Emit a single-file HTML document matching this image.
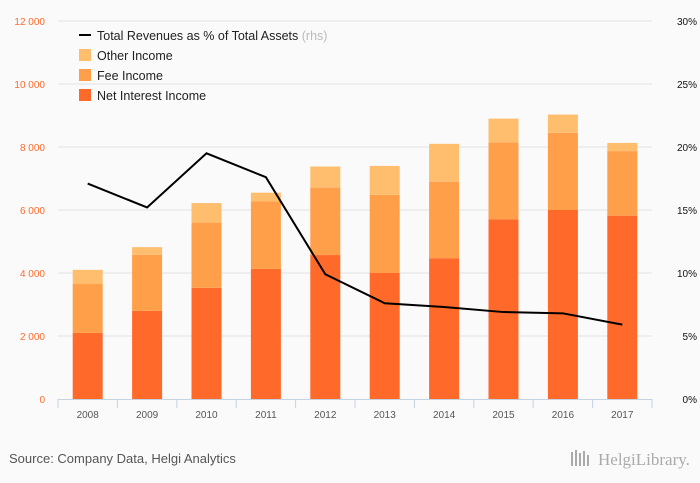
<!DOCTYPE html>
<html><head><meta charset="utf-8"><style>
body{margin:0;background:#fafafa;font-family:"Liberation Sans",sans-serif;}
svg{display:block}
</style></head><body>
<svg id="c" width="700" height="483" xmlns="http://www.w3.org/2000/svg">
<rect width="700" height="483" fill="#fafafa"/>
<g id="grid"></g><g id="bars"></g><g id="line"></g><g id="axes"></g>
<g font-size="12.5" fill="#222">
<line x1="79" y1="35" x2="91" y2="35" stroke="#000" stroke-width="2"/>
<text x="97" y="40">Total Revenues as % of Total Assets <tspan fill="#bbb">(rhs)</tspan></text>
<rect x="79" y="49" width="12" height="12" fill="#ffbd6e"/>
<text x="97" y="60">Other Income</text>
<rect x="79" y="69" width="12" height="12" fill="#ff9f4a"/>
<text x="97" y="80">Fee Income</text>
<rect x="79" y="89" width="12" height="12" fill="#ff6a2b"/>
<text x="97" y="100">Net Interest Income</text>
</g>
<text x="9" y="463" font-size="13" fill="#555">Source: Company Data, Helgi Analytics</text>
<text x="598" y="465" font-size="17" fill="#aaa" font-family="Liberation Serif,serif">HelgiLibrary.</text>
<g fill="#aaa"><rect x="571" y="452" width="2" height="14"/><rect x="575" y="450" width="2" height="16"/><rect x="579" y="453" width="2" height="13"/><rect x="583" y="451" width="2" height="15"/><rect x="587" y="455" width="2" height="11"/></g>
</svg>
<script>
const years=["2008","2009","2010","2011","2012","2013","2014","2015","2016","2017"];
const nii=[2100,2800,3530,4130,4570,4000,4470,5700,6000,5820];
const fee=[1550,1780,2070,2140,2140,2480,2430,2450,2450,2050];
const other=[450,240,620,280,670,920,1200,750,580,260];
const ratio=[17.1,15.2,19.5,17.6,9.9,7.6,7.3,6.9,6.8,5.9];
const leftTicks=[0,2000,4000,6000,8000,10000,12000];
const rightTicks=[0,5,10,15,20,25,30];
const X0=58,X1=652,Y0=399,Y1=21;
const bw=(X1-X0)/years.length;
const yL=v=>Y0-(v/12000)*(Y0-Y1);
const yR=v=>Y0-(v/30)*(Y0-Y1);
const xc=i=>X0+bw*(i+0.5);
const NS="http://www.w3.org/2000/svg";
function mk(p,t,a){const e=document.createElementNS(NS,t);for(const k in a)e.setAttribute(k,a[k]);p.appendChild(e);return e;}
const grid=document.getElementById('grid'),bars=document.getElementById('bars'),line=document.getElementById('line'),axes=document.getElementById('axes');
leftTicks.forEach((v,i)=>{
 if(v>0){const g=mk(grid,'line',{x1:X0,x2:X1,y1:yL(v),y2:yL(v),stroke:'#e2e2e2'});
 
 }
 const t=mk(axes,'text',{x:45,y:yL(v)+4,'text-anchor':'end','font-size':'10',fill:'#ff6a2b'});
 t.textContent=v===0?'0':v.toLocaleString('en').replace(',',' ');
 
 
});
rightTicks.forEach(v=>{
 const t=mk(axes,'text',{x:697,y:yR(v)+4,'text-anchor':'end','font-size':'10',fill:'#111'});
 t.textContent=v+'%';
 
 
});
const cols=['#ff6a2b','#ff9f4a','#ffbd6e'],names=['bar-nii','bar-fee','bar-other'];
years.forEach((y,i)=>{
 let base=0;[nii[i],fee[i],other[i]].forEach((v,k)=>{
  const r=mk(bars,'rect',{x:xc(i)-15,width:30,y:yL(base+v),height:yL(base)-yL(base+v),fill:cols[k]});
  
  
  base+=v;});
 const t=mk(axes,'text',{x:xc(i),y:418,'text-anchor':'middle','font-size':'10',fill:'#555'});
 t.textContent=y;
 
 
});
const ax=mk(axes,'line',{x1:X0,x2:X1,y1:Y0+0.5,y2:Y0+0.5,stroke:'#c5d3e3'});


for(let i=0;i<=years.length;i++){const tk=mk(axes,'line',{x1:X0+bw*i,x2:X0+bw*i,y1:Y0,y2:Y0+9,stroke:'#c5d3e3'});
 
 }
const pl=mk(line,'polyline',{points:ratio.map((v,i)=>xc(i)+','+yR(v)).join(' '),fill:'none',stroke:'#000','stroke-width':2});


</script>
</body></html>
